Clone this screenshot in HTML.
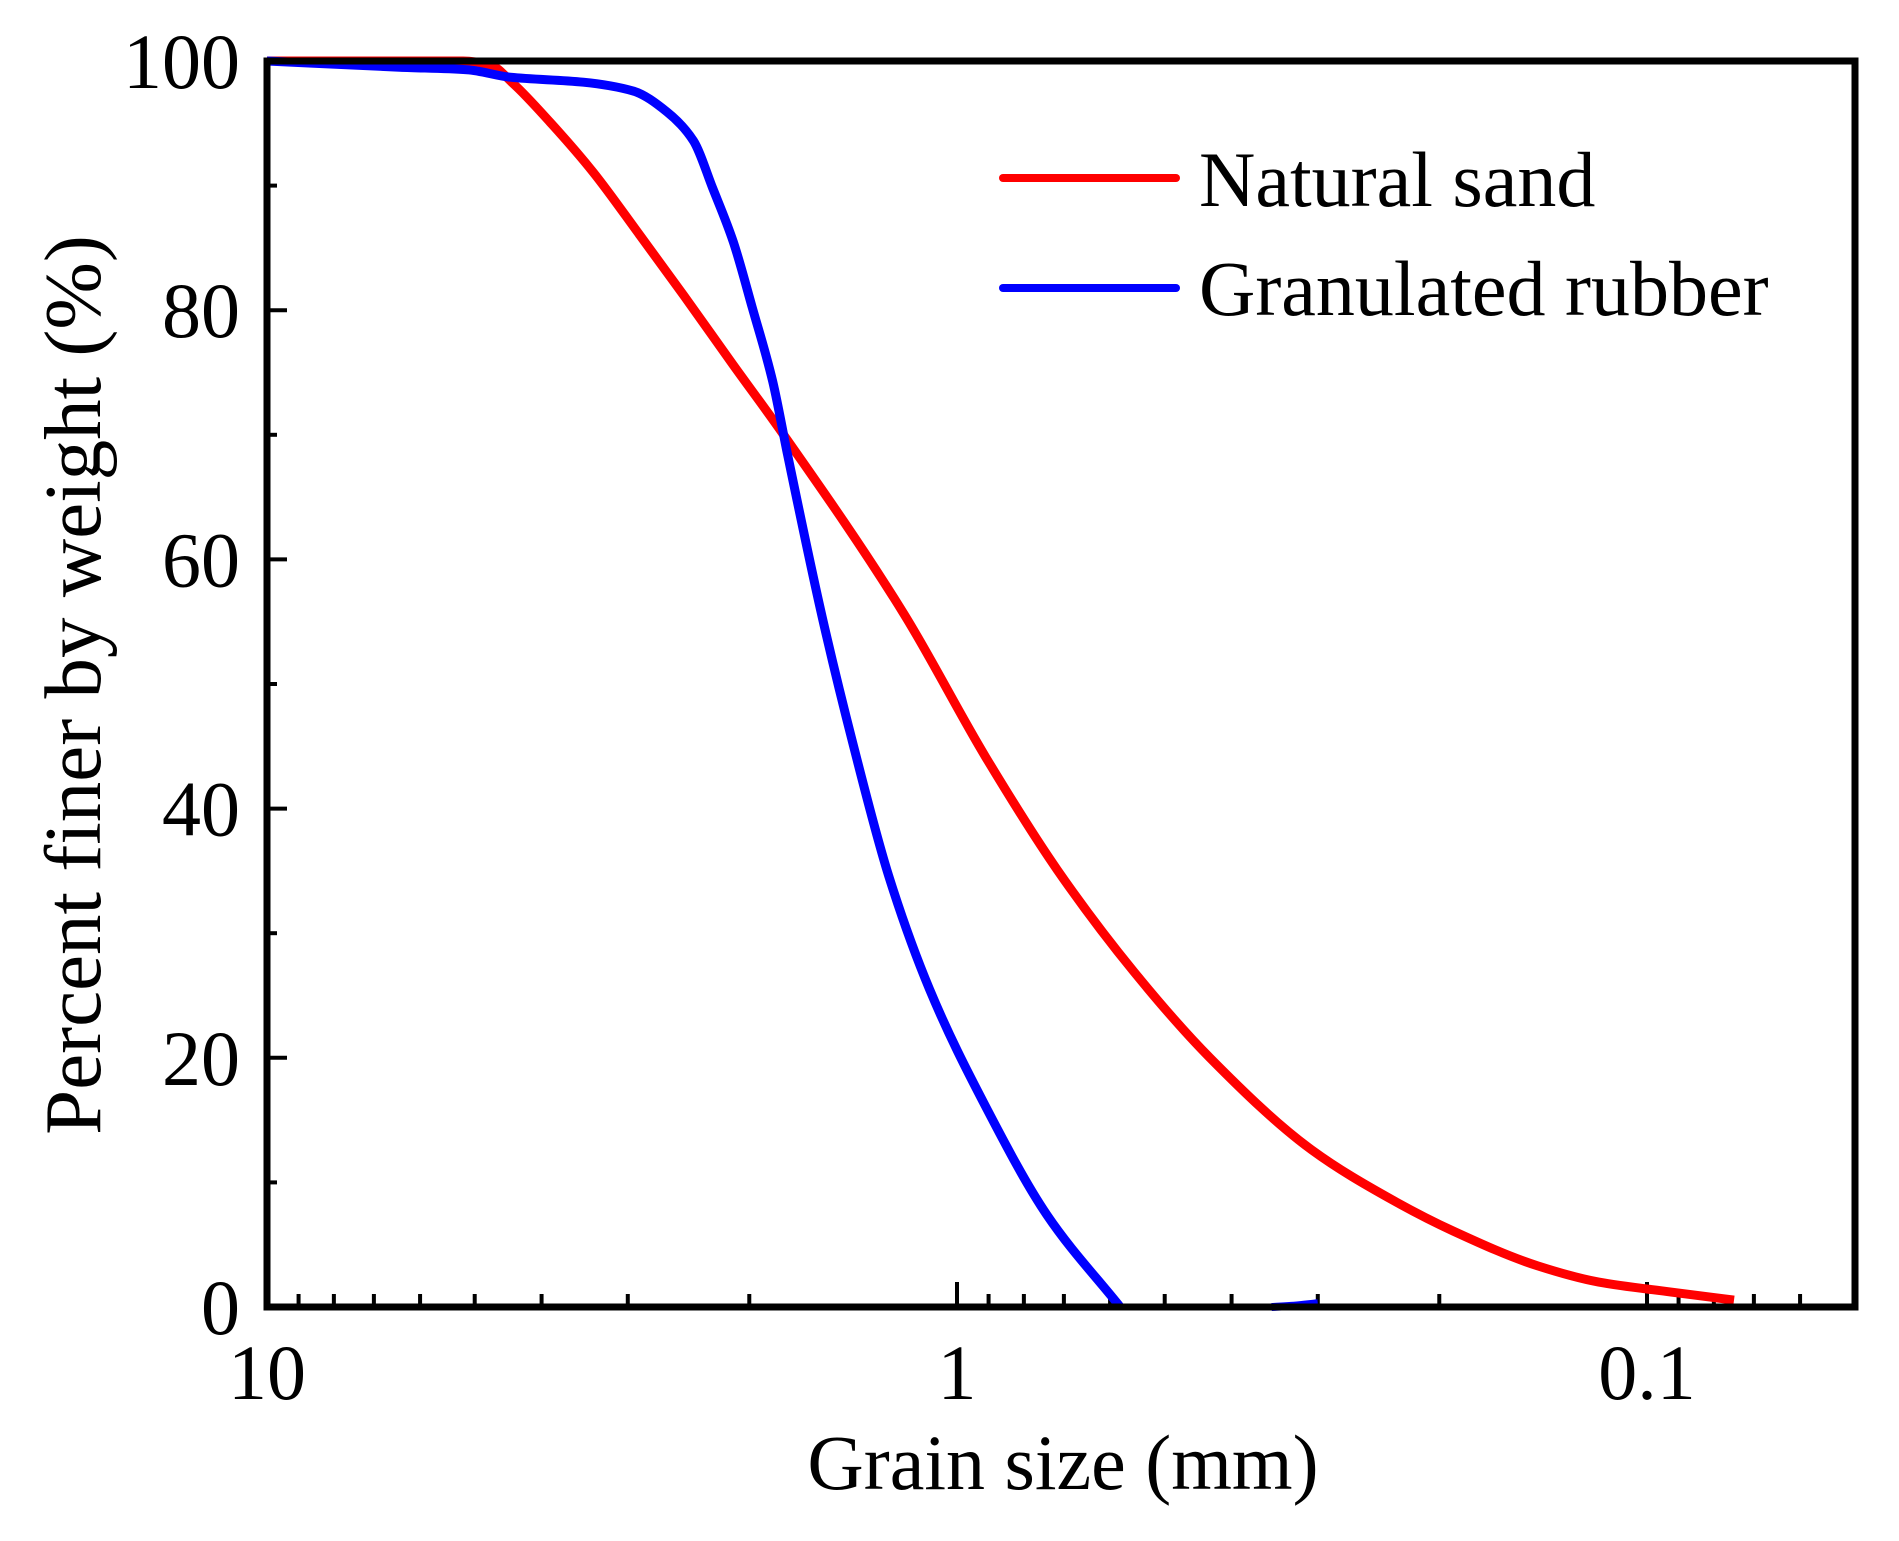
<!DOCTYPE html>
<html><head><meta charset="utf-8"><style>
html,body{margin:0;padding:0;background:#fff;}
svg{display:block;font-family:"Liberation Serif",serif;}
</style></head><body>
<svg id="chart" width="1899" height="1541" viewBox="0 0 1899 1541" xmlns="http://www.w3.org/2000/svg">
<g id="ticks"></g>
<g id="series"></g>
<rect x="267" y="61" width="1588" height="1246" fill="none" stroke="#000" stroke-width="7"/>
<g id="labels"></g>
<text x="1063" y="1489" font-size="78" text-anchor="middle">Grain size (mm)</text>
<text transform="translate(100,685) rotate(-90)" font-size="81" text-anchor="middle">Percent finer by weight (%)</text>
<g>
<line x1="1003" y1="178" x2="1176" y2="178" stroke="#ff0000" stroke-width="8" stroke-linecap="round"/>
<text x="1199" y="206" font-size="78">Natural sand</text>
<line x1="1003" y1="288" x2="1176" y2="288" stroke="#0000ff" stroke-width="8" stroke-linecap="round"/>
<text x="1199" y="315" font-size="78">Granulated rubber</text>
</g>
</svg>
<script>
const sandSize = [10, 5.2, 4.75, 4.40, 3.89, 3.37, 2.88, 2.49, 2.11, 1.81, 1.193, 0.908, 0.716, 0.554, 0.430, 0.306, 0.234, 0.191, 0.144, 0.1175, 0.0923, 0.0748];
const sandPct  = [100, 100, 99.7, 98.2, 95.1, 91.1, 86.0, 81.2, 75.6, 70.5, 55.6, 44.1, 35.1, 26.9, 20.0, 12.6, 8.6, 6.1, 3.3, 2.0, 1.2, 0.55];
const rubberSize = [10, 6.42, 5.13, 4.44, 3.48, 2.95, 2.63, 2.41, 2.26, 2.11, 1.98, 1.85, 1.76, 1.567, 1.415, 1.256, 1.096, 0.909, 0.741, 0.58];
const rubberPct  = [100, 99.5, 99.3, 98.7, 98.3, 97.6, 95.9, 93.6, 89.8, 85.5, 80.2, 74.3, 68.4, 55.3, 45.2, 34.6, 25.5, 16.1, 7.4, 0];
const rubberTailSize = [0.350, 0.325, 0.300];
const rubberTailPct  = [0, 0.1, 0.3];
const yTicks = [0, 20, 40, 60, 80, 100];
const yTickLabels = ["0", "20", "40", "60", "80", "100"];
const xTicks = [10, 1, 0.1];
const xTickLabels = ["10", "1", "0.1"];

const L=267, R=1855, T=61, B=1307, DEC=690;
function xs(d){ return L + DEC*(1 - Math.log10(d)); }
function ys(p){ return B - (B-T)*p/100; }
const NS="http://www.w3.org/2000/svg";
function mk(tag, attrs, parent){ const e=document.createElementNS(NS,tag); for(const k in attrs) e.setAttribute(k,attrs[k]); parent.appendChild(e); return e; }
const tg=document.getElementById('ticks'), lg=document.getElementById('labels'), sg=document.getElementById('series');

yTicks.forEach((v,i)=>{
  const t=mk('line',{x1:L,x2:L+20,y1:ys(v),y2:ys(v),stroke:'#000','stroke-width':4},tg);
  
  
  const lab=mk('text',{x:240,y:ys(v)+27,'font-size':78,'text-anchor':'end'},lg);
  lab.textContent=yTickLabels[i];
  
  
  if(i<yTicks.length-1){
    const m=mk('line',{x1:L,x2:L+10,y1:ys(v+10),y2:ys(v+10),stroke:'#000','stroke-width':4},tg);
    
    
  }
});
xTicks.forEach((v,i)=>{
  const t=mk('line',{x1:xs(v),x2:xs(v),y1:B,y2:B-25,stroke:'#000','stroke-width':4},tg);
  
  
  const lab=mk('text',{x:xs(v),y:1399,'font-size':78,'text-anchor':'middle'},lg);
  lab.textContent=xTickLabels[i];
  
  
});
[1,0.1,0.01].forEach(dec=>{
  for(let k=2;k<=9;k++){
    const d=dec*k; const x=xs(d);
    if(x<L||x>R) continue;
    const m=mk('line',{x1:x,x2:x,y1:B,y2:B-13,stroke:'#000','stroke-width':4},tg);
    
    
  }
});
// monotone cubic (Fritsch-Carlson) in pixel space
function smooth(sz,pc){
  const X=sz.map(xs), Y=pc.map(ys), n=X.length;
  const h=[], s=[];
  for(let i=0;i<n-1;i++){ h[i]=X[i+1]-X[i]; s[i]=(Y[i+1]-Y[i])/h[i]; }
  const m=new Array(n);
  m[0]=s[0]; m[n-1]=s[n-2];
  for(let i=1;i<n-1;i++){
    if(s[i-1]*s[i]<=0) m[i]=0;
    else { const w1=2*h[i]+h[i-1], w2=h[i]+2*h[i-1]; m[i]=(w1+w2)/(w1/s[i-1]+w2/s[i]); }
  }
  let d='M'+X[0]+','+Y[0];
  for(let i=0;i<n-1;i++){
    const c1x=X[i]+h[i]/3, c1y=Y[i]+m[i]*h[i]/3;
    const c2x=X[i+1]-h[i]/3, c2y=Y[i+1]-m[i+1]*h[i]/3;
    d+=' C'+c1x+','+c1y+' '+c2x+','+c2y+' '+X[i+1]+','+Y[i+1];
  }
  return d;
}
const s1=mk('path',{d:smooth(sandSize,sandPct),fill:'none',stroke:'#ff0000','stroke-width':9,'stroke-linejoin':'round'},sg);


const s2=mk('path',{d:smooth(rubberSize,rubberPct),fill:'none',stroke:'#0000ff','stroke-width':9,'stroke-linejoin':'round'},sg);


const s3=mk('path',{d:smooth(rubberTailSize,rubberTailPct),fill:'none',stroke:'#0000ff','stroke-width':8},sg);


</script>
</body></html>
